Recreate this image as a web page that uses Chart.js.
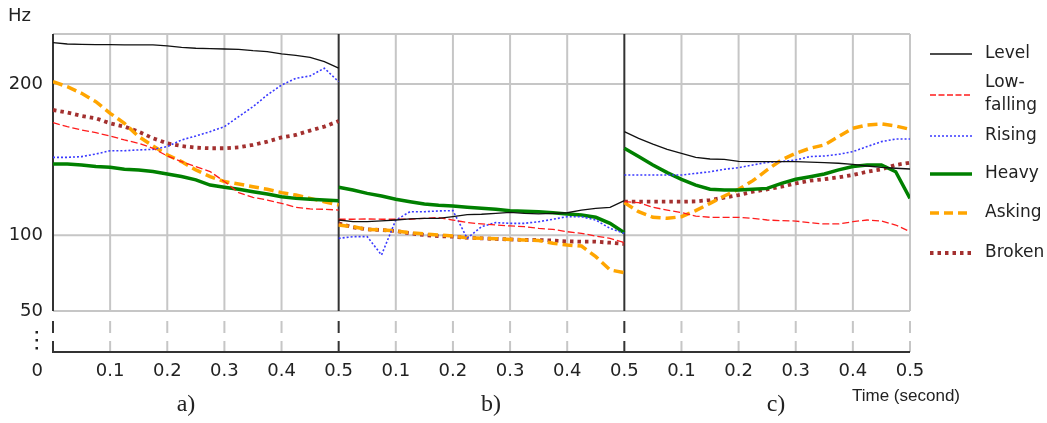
<!DOCTYPE html>
<html><head><meta charset="utf-8">
<script src="https://cdn.jsdelivr.net/npm/chart.js@4/dist/chart.umd.min.js"></script>
<style>html,body{margin:0;padding:0;background:#fff;}#wrap{width:1047px;height:423px;}</style>
</head><body><div id="wrap"><canvas id="c" width="1047" height="423"></canvas></div>
<script>
// time samples within each panel (seconds)
const T = [0,0.025,0.05,0.075,0.1,0.125,0.15,0.175,0.2,0.225,0.25,0.275,0.3,0.325,0.35,0.375,0.4,0.425,0.45,0.475,0.5];
const panels = ['a)','b)','c)'];
const seriesNames = ['Level','Low-falling','Rising','Heavy','Asking','Broken'];
const yTicks = [50,100,200];
const xTickValues = [0.1,0.2,0.3,0.4,0.5,0.6,0.7,0.8,0.9,1.0,1.1,1.2,1.3,1.4,1.5];
const xTickLabels = ['0.1','0.2','0.3','0.4','0.5','0.1','0.2','0.3','0.4','0.5','0.1','0.2','0.3','0.4','0.5'];

const levelA = [227.3,226.4,226.2,226,226,225.8,225.8,225.8,225.1,224.2,223.6,223.4,223.1,222.9,222,221.4,219.8,218.9,217.6,214.8,210.4];
const levelB = [110.1,109,109,109.5,110.1,110.8,111.2,111.2,112.3,113.6,113.9,114.5,115.2,114.5,114.1,114.5,114.9,116.7,117.8,118.5,122.9];
const levelC = [168.5,164.1,160.3,156.8,154.2,151.5,150.4,150.2,148.9,148.7,148.7,148.7,148.7,148.4,148,147.6,146.9,145.8,144.9,144.3,143.8];

const lowA = [174.4,171.8,169.6,167.8,165.6,163,160.8,157.5,152.4,148.7,145.4,142.1,135.5,128.2,125.1,123.3,121.1,118.5,117.4,117.2,116.7];
const lowB = [110.6,110.6,110.8,110.6,110.6,110.6,111.2,111.7,110.1,108.4,107.5,106.8,106.2,105.7,104.6,103.9,102.4,101.3,99.5,98,95.1];
const lowC = [122.2,121.6,118.5,116.7,115,112.7,111.9,111.9,111.9,111.2,110.1,109.7,109.4,108.3,107.5,107.5,109,110.1,109.4,106.8,102.4];

const risA = [151.5,151.5,152,153.7,155.9,155.9,156.4,156.8,158.6,163,165.6,168.5,171.8,178.4,185,192.7,199.3,203.7,205.3,210.4,201.5];
const risB = [98,99.1,99.1,87,110.1,115.6,115.6,116.1,116.3,98,105.7,108.4,107.9,107.9,109,110.6,112.3,112.3,110.1,104.6,101.3];
const risC = [139.8,139.8,139.8,139.8,139.8,140.9,142,143.6,144.7,146.5,148.2,148.7,149.8,152,152.4,153.5,155.3,158.6,161.9,163.6,163.6];

const heavyA = [147.1,147.1,146.5,145.4,144.9,143.6,143.2,142.1,140.5,138.8,136.6,133.2,131.7,130.4,128.8,127.3,125.5,124.4,123.8,123.3,122.9];
const heavyB = [131.7,129.9,127.7,126,123.8,122.2,120.7,119.8,119.4,118.5,117.8,117.2,116.3,115.9,115.6,114.9,114.1,113.4,111.9,107.9,101.7];
const heavyC = [157.5,152,146.5,141.4,137,133.2,130.4,129.9,129.9,130.4,131,134.3,137,138.7,140.5,143.2,145.4,146.5,146.5,142,124.4];

const askA = [201.5,198.2,193.8,188.3,180.6,174,165.2,159,153.1,148.7,143.2,138.8,135.5,133.9,132.1,130.4,128.2,126.6,124.4,122.2,120];
const askB = [106.8,105.7,103.9,103.5,102.9,101.7,100.9,100.2,99.5,98.4,98,97.8,97.3,96.9,96.5,94.7,93.6,92.9,85.9,77.1,75.3];
const askC = [121.6,115.6,111.9,111.2,112.3,116.3,121.1,126,130.4,136.1,143.2,149.8,154.2,157.5,159.7,165.2,170.7,172.9,173.6,172.2,170];

const brkA = [182.8,181.1,178.9,177.3,174,171.8,168.5,164.1,160.8,159,157.9,157.5,157.5,158.1,159.7,161.9,164.7,166.3,169.2,171.8,175.5];
const brkB = [107.9,105.3,103.9,103.5,102.9,101.3,100.2,99.5,99.1,98.4,98,97.6,97.3,96.9,96.9,96.5,96,95.8,95.8,95.1,94.3];
const brkC = [122.2,122.2,122.2,122.2,122.2,122.4,123.3,124.9,126.6,128.8,130.4,132.1,134.3,136.1,137,138.3,139.8,142,143.6,146.5,148];

function pts(a,b,c){
  const out=[];
  [a,b,c].forEach((arr,p)=>{
    arr.forEach((v,i)=>out.push({x:p*0.5+T[i],y:v}));
    if(p<2) out.push({x:p*0.5+0.5,y:null});
  });
  return out;
}

const FONT = '"DejaVu Sans", Verdana, sans-serif';
const datasets = [
  {label:seriesNames[0],data:pts(levelA,levelB,levelC),borderColor:'#111111',borderWidth:1.3,borderDash:[],legendDash:[]},
  {label:seriesNames[1],data:pts(lowA,lowB,lowC),borderColor:'#ff1c1c',borderWidth:1.3,borderDash:[7,3],legendDash:[6,2.5]},
  {label:seriesNames[2],data:pts(risA,risB,risC),borderColor:'#3a3aff',borderWidth:1.6,borderDash:[2,2],legendDash:[2,2]},
  {label:seriesNames[3],data:pts(heavyA,heavyB,heavyC),borderColor:'#008000',borderWidth:3.5,borderDash:[],legendDash:[]},
  {label:seriesNames[4],data:pts(askA,askB,askC),borderColor:'#ffa500',borderWidth:3.5,borderDash:[10,5],legendDash:[9,5]},
  {label:seriesNames[5],data:pts(brkA,brkB,brkC),borderColor:'#a3302f',borderWidth:3.8,borderDash:[3.5,4],legendDash:[3.5,4]}
];
datasets.forEach(d=>{d.pointRadius=0;d.tension=0;d.fill=false;d.spanGaps=false;d.borderCapStyle='butt';});

const legendY = [54,95,136,174,213,253];

const decor = {
  id:'decor',
  beforeDatasetsDraw(chart){
    const ctx=chart.ctx, a=chart.chartArea, xs=chart.scales.x, ys=chart.scales.y;
    const y50=ys.getPixelForValue(50);
    ctx.save();
    // horizontal grid
    ctx.strokeStyle='#c6c6c6'; ctx.lineWidth=2;
    ctx.beginPath();
    [a.top].concat(yTicks.map(v=>ys.getPixelForValue(v))).forEach(y=>{ctx.moveTo(a.left,y);ctx.lineTo(a.right,y);});
    ctx.stroke();
    // vertical grid
    const verts=[0].concat(xTickValues);
    verts.forEach(v=>{
      const x=xs.getPixelForValue(v);
      const r=Math.round(v*10);
      const dark = (r%5===0) && r<15;
      ctx.strokeStyle = dark ? '#333333' : '#c6c6c6';
      ctx.lineWidth = 2;
      ctx.setLineDash([]);
      ctx.beginPath(); ctx.moveTo(x,a.top); ctx.lineTo(x,y50); ctx.stroke();
      ctx.beginPath();
      ctx.moveTo(x,y50+10); ctx.lineTo(x,y50+22);
      ctx.moveTo(x,y50+30); ctx.lineTo(x,a.bottom);
      ctx.stroke();
    });
    // bottom axis
    ctx.strokeStyle='#333333'; ctx.lineWidth=2;
    ctx.beginPath(); ctx.moveTo(a.left-1,a.bottom); ctx.lineTo(a.right,a.bottom); ctx.stroke();
    ctx.restore();
  },
  afterDraw(chart){
    const ctx=chart.ctx, a=chart.chartArea;
    ctx.save();
    ctx.fillStyle='#222';
    ctx.font='18px '+FONT;
    ctx.textBaseline='middle';
    ctx.textAlign='left';
    ctx.fillText('Hz',8,16);
    ctx.textAlign='right';
    ctx.fillText('0',43,371);
    // broken-axis dots
    [331,339,347].forEach(y=>ctx.fillRect(35.5,y,2.5,2.5));
    // panel captions
    ctx.textAlign='center';
    ctx.font='24px "Liberation Serif", "Times New Roman", serif';
    const capX=[186,491,776];
    panels.forEach((p,i)=>ctx.fillText(p,capX[i],405));
    ctx.font='17px "Liberation Sans", Arial, sans-serif';
    ctx.fillText('Time (second)',906,396);
    // legend
    ctx.font='17px '+FONT;
    chart.data.datasets.forEach((d,i)=>{
      const y=legendY[i];
      ctx.strokeStyle=d.borderColor; ctx.lineWidth=d.borderWidth;
      ctx.setLineDash(d.legendDash); ctx.lineCap='butt';
      ctx.beginPath(); ctx.moveTo(930,y); ctx.lineTo(972,y); ctx.stroke();
      ctx.setLineDash([]);
      ctx.fillStyle='#222'; ctx.textAlign='left';
      if(d.label==='Low-falling'){
        ctx.fillText('Low-',985,83);
        ctx.fillText('falling',985,106);
      } else {
        ctx.fillText(d.label,985,y);
      }
    });
    ctx.restore();
  }
};

new Chart(document.getElementById('c'),{
  type:'line',
  data:{datasets},
  options:{
    responsive:false,animation:false,
    layout:{padding:{top:34,right:137,left:0,bottom:0}},
    plugins:{legend:{display:false},tooltip:{enabled:false}},
    scales:{
      x:{type:'linear',min:0,max:1.5,
        grid:{display:false,drawTicks:false},border:{display:false},
        afterBuildTicks:(s)=>{s.ticks=xTickValues.map(v=>({value:v}));},
        afterFit:(s)=>{s.height=71;},
        ticks:{padding:9,color:'#222',font:{family:FONT,size:18},maxRotation:0,autoSkip:false,
          callback:(v,i)=>xTickLabels[i]}
      },
      y:{type:'linear',min:22.9,max:233,
        grid:{display:false,drawTicks:false},border:{display:false},
        afterBuildTicks:(s)=>{s.ticks=yTicks.map(v=>({value:v}));},
        afterFit:(s)=>{s.width=53;},
        ticks:{padding:10,color:'#222',font:{family:FONT,size:18},autoSkip:false}
      }
    }
  },
  plugins:[decor]
});
</script></body></html>
